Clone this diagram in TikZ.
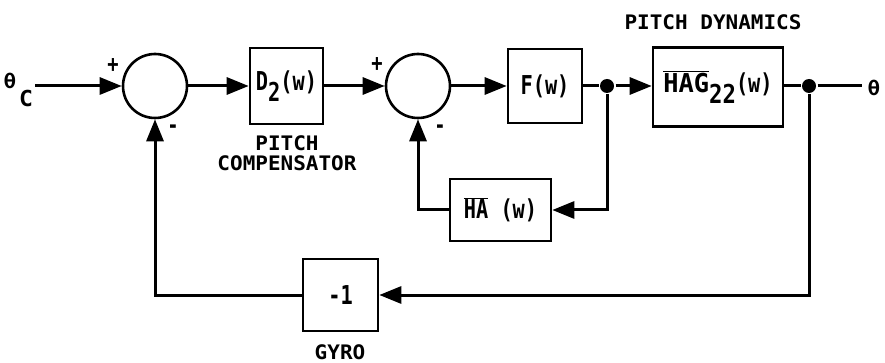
\documentclass[tikz,border=0pt]{standalone}
\usepackage{fontspec}
\usepackage{graphicx}
\setmainfont{DejaVu Sans Mono}
\newfontfamily\boxf{DejaVu Sans Mono}[FakeStretch=0.78]
\newfontfamily\lblf{DejaVu Sans Mono}[FakeStretch=1.05]
\usetikzlibrary{arrows.meta}
\newcommand\ovl[1]{\ensuremath{\overline{\mbox{#1}}}}
\newcommand\lowr[1]{\raisebox{-0.42em}{#1}}
\begin{document}
\begin{tikzpicture}[x=1pt,y=-1pt,
  line width=3pt,
  blk/.style={draw, line width=2.6pt, inner sep=0pt, font=\fontsize{26}{28}\boxf\bfseries},
  sumc/.style={draw, circle, minimum size=64pt, line width=2.6pt, inner sep=0pt},
  junc/.style={circle, fill, minimum size=14pt, inner sep=0pt},
  lbl/.style={font=\fontsize{20}{22}\lblf\bfseries, inner sep=0pt},
  sgn/.style={font=\fontsize{24}{26}\boxf\bfseries, inner sep=0pt},
  arr/.style={-{Triangle[length=22pt,width=17pt]}},
]
\useasboundingbox (0,0) rectangle (885,363);

% input
\node[lbl] (th) at (10,81) {θ};
\node[lbl, font=\fontsize{22}{24}\lblf\bfseries] (cc) at (26,98) {C};
\coordinate (in) at (35,86);

% summing junctions
\node[sumc] (s1) at (155,86) {};
\node[sgn] (s1p) at (113,66) {+};
\node[sgn] (s1m) at (173,129) {-};
\node[sumc] (s2) at (418,86) {};
\node[sgn] (s2p) at (377,65) {+};
\node[sgn] (s2m) at (440,129) {-};

% blocks
\node[blk, minimum width=73pt, minimum height=76pt] (d2) at (286.5,86) {D\lowr{2}(w)};
\node[lbl] (pc1) at (287,143) {PITCH};
\node[lbl] (pc2) at (287,163) {COMPENSATOR};
\node[blk, minimum width=74pt, minimum height=74pt] (f) at (545,86) {F(w)};
\node[junc] (j1) at (607,86) {};
\node[blk, minimum width=130pt, minimum height=79pt] (hag) at (718,87) {\ovl{\scalebox{1.25}[1]{HAG}}\lowr{\scalebox{1.1}[1]{22}}(w)};
\node[lbl] (pd) at (713,22) {PITCH DYNAMICS};
\node[junc] (j2) at (809,86) {};
\coordinate (out) at (862,86);
\node[lbl] (tho) at (874,88) {θ};
\node[blk, minimum width=101pt, minimum height=62pt] (ha) at (500.5,210) {\ovl{HA} (w)};
\node[blk, minimum width=75pt, minimum height=72pt] (gy) at (340.5,295) {-1};
\node[lbl] (gyl) at (340,352) {GYRO};

% connectors
\draw[arr] (in) -- (s1.west);
\draw[arr] (s1.east) -- (d2.west);
\draw[arr] (d2.east) -- (s2.west);
\draw[arr] (s2.east) -- (f.west);
\draw (f.east) -- (j1);
\draw[arr] (j1) -- (hag.west |- j1);
\draw (hag.east |- j2) -- (j2) -- (out);
\draw[arr] (j1) |- (ha.east);
\draw[arr] (ha.west) -| (s2.south);
\draw[arr] (j2) |- (gy.east);
\draw[arr] (gy.west) -| (s1.south);
\end{tikzpicture}
\end{document}
